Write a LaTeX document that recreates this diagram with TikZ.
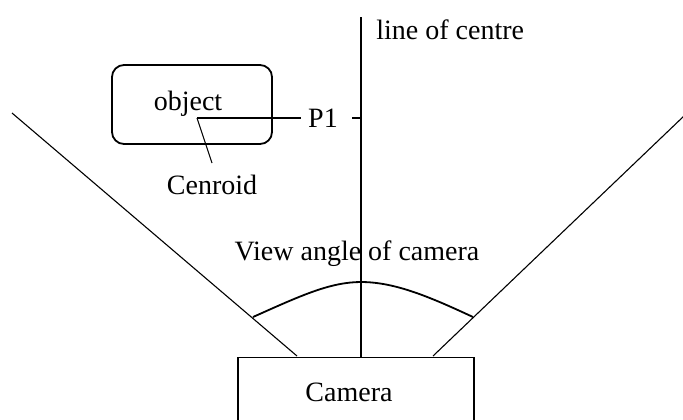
\documentclass[tikz,border=0pt]{standalone}
\usepackage{fontspec}
\setmainfont{Liberation Serif}
\usetikzlibrary{positioning}

\begin{document}
\begin{tikzpicture}[
  x=0.5pt,y=-0.5pt,
  font=\fontsize{14}{16}\selectfont,
  node distance=0.3cm and 0.2cm,
  objbox/.style={draw,line width=0.9pt,rounded corners=6pt,
                 minimum width=80pt,minimum height=39.5pt,inner sep=0pt},
  cambox/.style={draw,line width=0.9pt,minimum width=118pt,
                 minimum height=40pt,inner sep=0pt},
  lbl/.style={inner sep=1pt},
  thin line/.style={line width=0.55pt},
  main line/.style={line width=0.9pt},
]
  \clip (0,0) rectangle (683,419);

  \node[objbox] (obj) at (192,104.5) {};
  \node[lbl] (objlbl) at (188,104) {object};
  \node[cambox,anchor=north] (cam) at (356,356.5) {};
  \node[lbl] (camlbl) at (349,392) {Camera};

  \coordinate (top) at (361,17);
  \coordinate (cen) at (197,118);
  \coordinate (tick) at (352,118);
  \coordinate (vl) at (12,113);
  \coordinate (vlend) at (297,356);
  \coordinate (vr) at (685,115);
  \coordinate (vrend) at (433,356);
  \coordinate (al) at (253,317);
  \coordinate (ar) at (473,317);
  \coordinate (apex) at (361,282);

  \node[lbl,inner xsep=3.5pt] (p1) at (323,118) {P1};
  \node[lbl,anchor=north,inner ysep=6pt] (cenlbl) at (212,163) {Cenroid};
  \node[lbl,anchor=west] (centre) at (374,30) {line of centre};
  \node[lbl] (view) at (357,254) {View angle of camera};

  \draw[main line] (top) -- (top |- cam.north);
  \draw[thin line] (tick) -- (tick -| top);
  \draw[thin line] (cen) -- (cen -| p1.west);
  \draw[thin line] (cen) -- (cenlbl.north);
  \draw[thin line] (vl) -- (vlend);
  \draw[thin line] (vr) -- (vrend);
  \draw[main line] (al) .. controls (300,296) and (330,282) .. (apex)
    .. controls (395,282) and (430,297) .. (ar);
\end{tikzpicture}
\end{document}
